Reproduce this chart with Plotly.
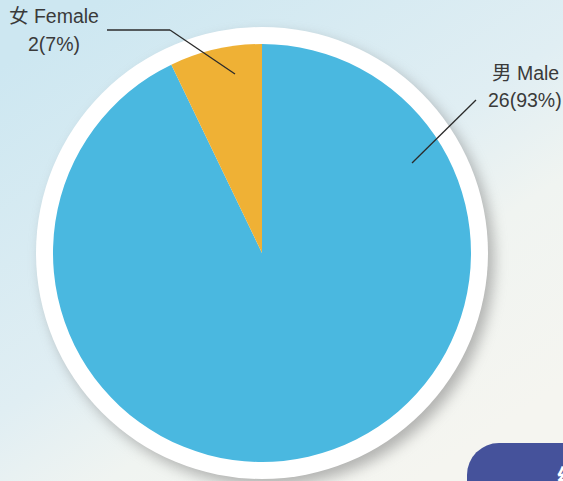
import base64

import plotly.graph_objects as go

W, H = 563, 481

# plotly's counterclockwise pies put the first slice right of 12 o'clock,
# so male comes first to leave female on the left as in the source
labels = ["男 Male", "女 Female"]
counts = [26, 2]
colors = ["#4ab8e0", "#efb135"]

total = sum(counts)
pct_text = [f"{c}({round(100 * c / total)}%)" for c in counts]

# pie geometry in page pixels
CX, CY, R = 262, 253, 209
RING = 226

FONT = "Liberation Sans, Arial, Noto Sans CJK TC, sans-serif"


def px(x, y):
    return x / W, 1 - y / H


background_svg = f"""<svg xmlns="http://www.w3.org/2000/svg" width="{W}" height="{H}" viewBox="0 0 {W} {H}">
<defs>
<linearGradient id="bg" gradientUnits="userSpaceOnUse" x1="100" y1="0" x2="420" y2="481">
<stop offset="0" stop-color="#cde7f1"/>
<stop offset="0.5" stop-color="#e0eef3"/>
<stop offset="0.7" stop-color="#f0f4f1"/>
<stop offset="1" stop-color="#f5f5f0"/>
</linearGradient>
<filter id="blur" x="-20%" y="-20%" width="140%" height="140%">
<feGaussianBlur stdDeviation="7"/>
</filter>
</defs>
<rect x="0" y="0" width="{W}" height="{H}" fill="url(#bg)"/>
<circle cx="{CX + 6}" cy="{CY + 7}" r="{RING}" fill="#7d7d7d" opacity="0.55" filter="url(#blur)"/>
<rect x="467" y="443" width="160" height="90" rx="32" fill="#45529b"/>
</svg>"""
bg_uri = "data:image/svg+xml;base64," + base64.b64encode(background_svg.encode()).decode()

x0, y1 = px(CX - R, CY - R)
x1, y0 = px(CX + R, CY + R)

fig = go.Figure(
    go.Pie(
        labels=labels,
        values=counts,
        sort=False,
        direction="counterclockwise",
        rotation=0,
        marker=dict(colors=colors, line=dict(width=0)),
        textinfo="none",
        hoverinfo="label+value+percent",
        domain=dict(x=[x0, x1], y=[y0, y1]),
    )
)

rx0, ry1 = px(CX - RING, CY - RING)
rx1, ry0 = px(CX + RING, CY + RING)

shapes = [
    dict(type="circle", xref="paper", yref="paper", x0=rx0, x1=rx1, y0=ry0, y1=ry1,
         fillcolor="white", line=dict(width=0), layer="below"),
]

# leader lines (pixel points), same order as labels
leaders = [
    [(476, 100), (412, 163)],
    [(107, 30), (170, 30), (235, 74)],
]
for pts in leaders:
    for a, b in zip(pts[:-1], pts[1:]):
        ax, ay = px(*a)
        bx, by = px(*b)
        shapes.append(dict(type="line", xref="paper", yref="paper", x0=ax, y0=ay, x1=bx, y1=by,
                           line=dict(color="#2b2b2b", width=1.3)))

label_pos = [(525, 73, 100), (54, 16, 44)]
annotations = []
for lab, txt, (lx, ly1, ly2) in zip(labels, pct_text, label_pos):
    for t, yy in ((lab, ly1), (txt, ly2)):
        ax, ay = px(lx, yy)
        annotations.append(dict(text=t, x=ax, y=ay, xref="paper", yref="paper",
                                xanchor="center", yanchor="middle", showarrow=False,
                                font=dict(family=FONT, size=19.5, color="#3a3a3a")))

tx, ty = px(555, 476)
annotations.append(dict(text="<b>統計</b>", x=tx, y=ty, xref="paper", yref="paper",
                        xanchor="left", yanchor="middle", showarrow=False,
                        font=dict(family="Noto Sans CJK TC", size=24, color="white")))

fig.update_layout(
    width=W,
    height=H,
    margin=dict(l=0, r=0, t=0, b=0),
    paper_bgcolor="#f5f5f0",
    plot_bgcolor="rgba(0,0,0,0)",
    showlegend=False,
    shapes=shapes,
    annotations=annotations,
    images=[dict(source=bg_uri, xref="paper", yref="paper", x=0, y=1, sizex=1, sizey=1,
                 sizing="stretch", xanchor="left", yanchor="top", layer="below")],
)

fig.write_html(
    "out.html",
    config=dict(displayModeBar=False),
    post_script="document.body.style.margin='0';document.body.style.overflow='hidden';",
)
